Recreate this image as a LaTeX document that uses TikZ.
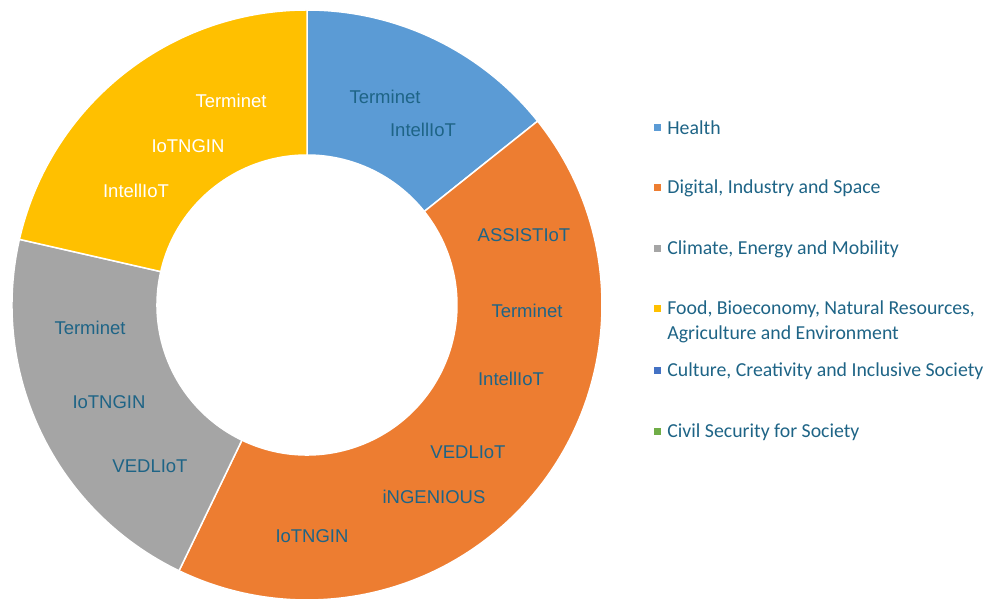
\documentclass[tikz,border=0pt]{standalone}
\usepackage{fontspec}
\setmainfont{Liberation Sans}
\newfontfamily\lgfont{Carlito}
\usepackage{tikz}
\usetikzlibrary{positioning}
\definecolor{hlthblue}{RGB}{91,155,213}
\definecolor{digorange}{RGB}{237,125,49}
\definecolor{climgray}{RGB}{165,165,165}
\definecolor{foodyellow}{RGB}{255,192,0}
\definecolor{cultblue}{RGB}{68,114,196}
\definecolor{civgreen}{RGB}{112,173,71}
\definecolor{txtblue}{RGB}{30,100,134}
\tikzset{
    slice/.style={
           draw=white, line width=1.5pt,
           },
}
\tikzset{
    proj/.style={
           text=txtblue,
           font=\fontsize{18.5}{20}\selectfont,
           inner sep=0pt,
           },
}
\tikzset{
    projw/.style={
           proj,
           text=white,
           },
}
\tikzset{
    lgbox/.style={
           rectangle,
           minimum size=7pt,
           inner sep=0pt,
           },
}
\tikzset{
    lgtext/.style={
           text=txtblue,
           font=\lgfont\fontsize{19.8}{25}\selectfont,
           inner sep=0pt,
           align=left,
           },
}

\begin{document}
\begin{tikzpicture}[x=1pt,y=1pt]
\useasboundingbox (-307,-296) rectangle (683,305);
% donut
\fill[slice,fill=hlthblue] (90:295) arc[start angle=90,end angle=38.57,radius=295] -- (38.57:150) arc[start angle=38.57,end angle=90,radius=150] -- cycle;
\fill[slice,fill=digorange] (38.57:295) arc[start angle=38.57,end angle=-115.71,radius=295] -- (-115.71:150) arc[start angle=-115.71,end angle=38.57,radius=150] -- cycle;
\fill[slice,fill=climgray] (-115.71:295) arc[start angle=-115.71,end angle=-192.86,radius=295] -- (-192.86:150) arc[start angle=-192.86,end angle=-115.71,radius=150] -- cycle;
\fill[slice,fill=foodyellow] (167.14:295) arc[start angle=167.14,end angle=90,radius=295] -- (90:150) arc[start angle=90,end angle=167.14,radius=150] -- cycle;
% Health
\node[proj] (h1) at (78,208) {Terminet};
\node[proj] (h2) at (116,175) {IntellIoT};
% Digital, Industry and Space
\node[proj] (d1) at (217,70) {ASSISTIoT};
\node[proj] (d2) at (220,-6) {Terminet};
\node[proj] (d3) at (204,-74) {IntellIoT};
\node[proj] (d4) at (161,-147) {VEDLIoT};
\node[proj] (d5) at (127,-192) {iNGENIOUS};
\node[proj] (d6) at (5,-231) {IoTNGIN};
% Climate, Energy and Mobility
\node[proj] (c1) at (-217,-23) {Terminet};
\node[proj] (c2) at (-198,-97) {IoTNGIN};
\node[proj] (c3) at (-157,-161) {VEDLIoT};
% Food
\node[projw] (f1) at (-76,204) {Terminet};
\node[projw] (f2) at (-119,159) {IoTNGIN};
\node[projw] (f3) at (-171,114) {IntellIoT};
% legend
\node[lgbox,fill=hlthblue] (hm) at (350,177) {};
\node[lgtext,right=6.5pt of hm] (ht) {Health};
\node[lgbox,fill=digorange] (dm) at (350,117) {};
\node[lgtext,right=6.5pt of dm] (dt) {Digital, Industry and Space};
\node[lgbox,fill=climgray] (cm) at (350,56) {};
\node[lgtext,right=6.5pt of cm] (ct) {Climate, Energy and Mobility};
\node[lgbox,fill=foodyellow] (fm) at (350,-4) {};
\node[lgtext,right=6.5pt of fm,yshift=-12.5pt] (ft) {Food, Bioeconomy, Natural Resources,\\Agriculture and Environment};
\node[lgbox,fill=cultblue] (um) at (350,-66) {};
\node[lgtext,right=6.5pt of um] (ut) {Culture, Creativity and Inclusive Society};
\node[lgbox,fill=civgreen] (vm) at (350,-127) {};
\node[lgtext,right=6.5pt of vm] (vt) {Civil Security for Society};
\end{tikzpicture}
\end{document}
